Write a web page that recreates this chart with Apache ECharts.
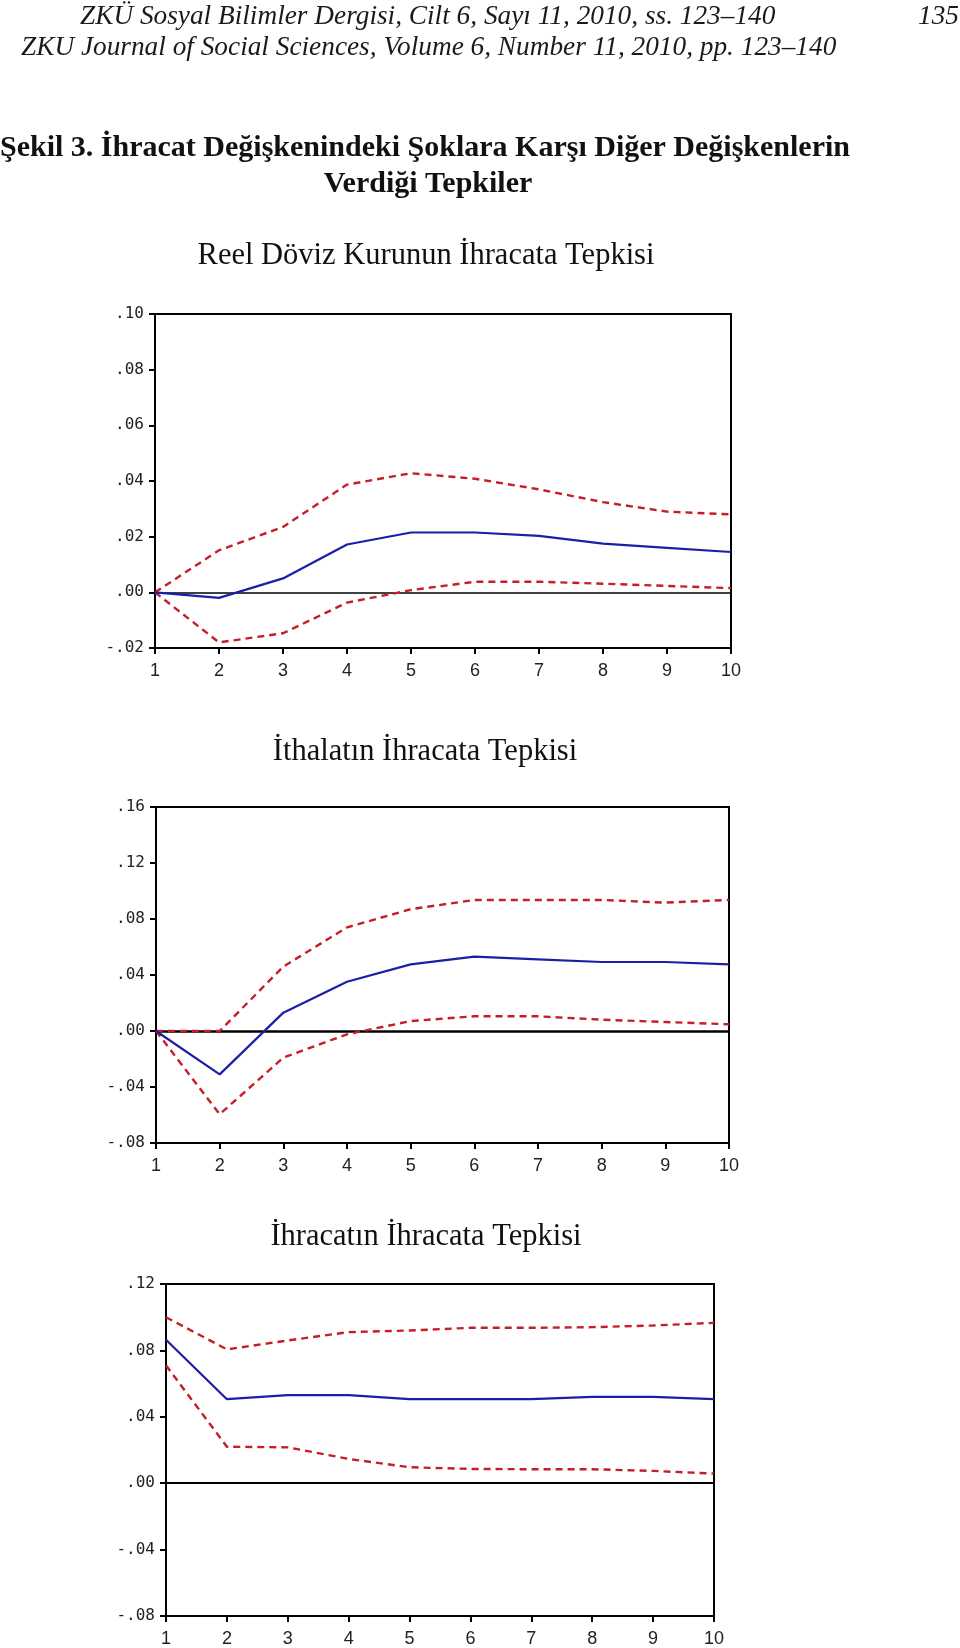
<!DOCTYPE html>
<html><head><meta charset="utf-8">
<script src="https://cdn.jsdelivr.net/npm/echarts@6/dist/echarts.min.js"></script>
<style>html,body{margin:0;padding:0;background:#fff}#c{width:960px;height:1648px}</style>
</head><body><div id="c"></div>
<script>
// ---- data ----
const periods = [1, 2, 3, 4, 5, 6, 7, 8, 9, 10];
const xTickLabels = ['1', '2', '3', '4', '5', '6', '7', '8', '9', '10'];

// Panel 1: Reel Döviz Kurunun İhracata Tepkisi
const rerResp  = [0, -0.002, 0.005, 0.0172, 0.0215, 0.0215, 0.0203, 0.0175, 0.016, 0.0145];
const rerUpper = [0, 0.0151, 0.0235, 0.0387, 0.0428, 0.0408, 0.037, 0.0324, 0.029, 0.028];
const rerLower = [0, -0.018, -0.0147, -0.0037, 0.0008, 0.0038, 0.0038, 0.0031, 0.0023, 0.0015];
const rerYTicks = ['-.02', '.00', '.02', '.04', '.06', '.08', '.10'];

// Panel 2: İthalatın İhracata Tepkisi
const impResp  = [0, -0.031, 0.0131, 0.0352, 0.0476, 0.0531, 0.0512, 0.0493, 0.0493, 0.0476];
const impUpper = [0, 0.0, 0.046, 0.074, 0.087, 0.0936, 0.0936, 0.0936, 0.0917, 0.0936];
const impLower = [0, -0.0595, -0.019, -0.0024, 0.0071, 0.0105, 0.0105, 0.0081, 0.0064, 0.0048];
const impYTicks = ['-.08', '-.04', '.00', '.04', '.08', '.12', '.16'];

// Panel 3: İhracatın İhracata Tepkisi
const expResp  = [0.0864, 0.0506, 0.053, 0.053, 0.0506, 0.0506, 0.0506, 0.052, 0.052, 0.0506];
const expUpper = [0.100, 0.0806, 0.086, 0.091, 0.092, 0.0936, 0.0936, 0.094, 0.095, 0.0966];
const expLower = [0.071, 0.022, 0.0216, 0.0146, 0.0096, 0.0086, 0.0084, 0.0084, 0.0074, 0.0058];
const expYTicks = ['-.08', '-.04', '.00', '.04', '.08', '.12'];

const headerLine1 = 'ZKÜ Sosyal Bilimler Dergisi, Cilt 6, Sayı 11, 2010, ss. 123–140';
const headerLine2 = 'ZKU Journal of Social Sciences, Volume 6, Number 11, 2010, pp. 123–140';
const pageNo = '135';
const figTitle1 = 'Şekil 3. İhracat Değişkenindeki Şoklara Karşı Diğer Değişkenlerin';
const figTitle2 = 'Verdiği Tepkiler';
const panelTitles = ['Reel Döviz Kurunun İhracata Tepkisi', 'İthalatın İhracata Tepkisi', 'İhracatın İhracata Tepkisi'];

// ---- chart ----
const BLUE = '#1c1ea6', RED = '#c41f28';
const xTickFont = "'Liberation Sans',Arial,sans-serif";
const yTickFont = "'DejaVu Sans Mono',monospace";
const pairs = arr => periods.map((p, i) => [p, arr[i]]);

const grids = [
  {left: 155, top: 314, width: 576, height: 334},
  {left: 156, top: 807, width: 573, height: 336},
  {left: 166, top: 1284, width: 548, height: 336}
];
const yCfg = [
  {min: -0.02, max: 0.10, interval: 0.02, labels: rerYTicks},
  {min: -0.08, max: 0.16, interval: 0.04, labels: impYTicks},
  {min: -0.08, max: 0.12, interval: 0.04, labels: expYTicks}
];
const panels = [[rerResp, rerUpper, rerLower], [impResp, impUpper, impLower], [expResp, expUpper, expLower]];

const option = {
  animation: false,
  backgroundColor: '#fff',
  grid: grids.map(g => Object.assign({show: true, borderColor: '#000', borderWidth: 2, backgroundColor: 'transparent'}, g)),
  xAxis: grids.map((g, i) => ({
    gridIndex: i, type: 'value', min: 1, max: 10, interval: 1,
    axisLine: {show: true, onZero: false, lineStyle: {color: '#000', width: 2}},
    axisTick: {show: true, length: 6, lineStyle: {color: '#000', width: 2}},
    axisLabel: {margin: 14, fontFamily: xTickFont, fontSize: 18, color: '#222',
      formatter: v => xTickLabels[Math.round(v) - 1]},
    splitLine: {show: false}
  })),
  yAxis: yCfg.map((c, i) => ({
    gridIndex: i, type: 'value', min: c.min, max: c.max, interval: c.interval,
    axisLine: {show: true, onZero: false, lineStyle: {color: '#000', width: 2}},
    axisTick: {show: true, length: 6, lineStyle: {color: '#000', width: 2}},
    axisLabel: {margin: 11, fontFamily: yTickFont, fontSize: 16, color: '#222',
      formatter: v => c.labels[Math.round((v - c.min) / c.interval)]},
    splitLine: {show: false}
  })),
  series: [],
  graphic: [
    {type: 'text', x: 80, y: 17, style: {text: headerLine1, font: 'italic 27.3px "Liberation Serif", serif', fill: '#1a1a1a', textAlign: 'left', textVerticalAlign: 'middle'}},
    {type: 'text', x: 959, y: 17, style: {text: pageNo, font: 'italic 27.3px "Liberation Serif", serif', fill: '#1a1a1a', textAlign: 'right', textVerticalAlign: 'middle'}},
    {type: 'text', x: 21, y: 48, style: {text: headerLine2, font: 'italic 27.3px "Liberation Serif", serif', fill: '#1a1a1a', textAlign: 'left', textVerticalAlign: 'middle'}},
    {type: 'text', x: 0, y: 148, style: {text: figTitle1, font: 'bold 30px "Liberation Serif", serif', fill: '#111', textAlign: 'left', textVerticalAlign: 'middle'}},
    {type: 'text', x: 428, y: 184, style: {text: figTitle2, font: 'bold 30px "Liberation Serif", serif', fill: '#111', textAlign: 'center', textVerticalAlign: 'middle'}},
    {type: 'text', x: 426, y: 256, style: {text: panelTitles[0], font: '30.5px "Liberation Serif", serif', fill: '#111', textAlign: 'center', textVerticalAlign: 'middle'}},
    {type: 'text', x: 425, y: 752, style: {text: panelTitles[1], font: '30.5px "Liberation Serif", serif', fill: '#111', textAlign: 'center', textVerticalAlign: 'middle'}},
    {type: 'text', x: 426, y: 1237, style: {text: panelTitles[2], font: '30.5px "Liberation Serif", serif', fill: '#111', textAlign: 'center', textVerticalAlign: 'middle'}}
  ]
};

const zeroWidths = [1.5, 2.5, 2];
panels.forEach((p, i) => {
  const [resp, up, lo] = p;
  option.series.push({
    type: 'line', xAxisIndex: i, yAxisIndex: i, data: pairs(resp), symbol: 'none',
    lineStyle: {color: BLUE, width: 2.2}, z: 4,
    markLine: {silent: true, symbol: 'none', label: {show: false},
      lineStyle: {color: '#000', width: zeroWidths[i], type: 'solid'}, data: [{yAxis: 0}], z: 2}
  });
  [up, lo].forEach(b => option.series.push({
    type: 'line', xAxisIndex: i, yAxisIndex: i, data: pairs(b), symbol: 'none', z: 3,
    lineStyle: {color: RED, width: 2.4, type: [7, 5]}
  }));
});

const chart = echarts.init(document.getElementById('c'), null, {renderer: 'canvas'});
chart.setOption(option);
</script>
</body></html>
